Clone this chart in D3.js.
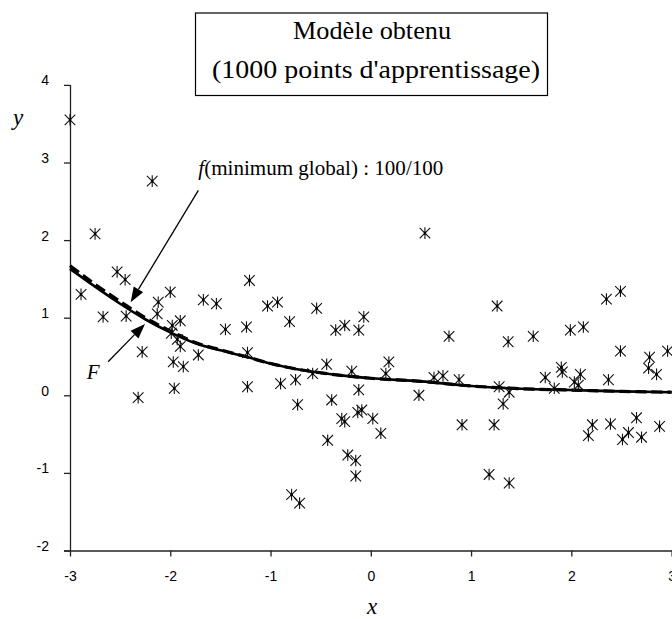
<!DOCTYPE html>
<html>
<head>
<meta charset="utf-8">
<script src="https://cdn.jsdelivr.net/npm/d3@7/dist/d3.min.js"></script>
<style>
html,body{margin:0;padding:0;background:#fff;}
svg{display:block;}
</style>
</head>
<body>
<svg id="chart" width="672" height="619"></svg>
<script>
// ---- data ----
const xTicks = [-3, -2, -1, 0, 1, 2, 3];
const yTicks = [-2, -1, 0, 1, 2, 3, 4];

const pointsX = [-3.00,-2.18,-2.75,-2.89,-2.67,-2.53,-2.45,-2.44,-2.28,-2.32,
  -2.12,-2.00,-2.13,-1.98,-1.90,-1.99,-1.93,-1.90,-1.97,-1.87,
  -1.96,-1.72,-1.67,-1.54,-1.45,-1.24,-1.23,-1.21,-1.23,-1.03,
  -0.93,-0.81,-0.54,-0.35,-0.26,-0.12,-0.07,-0.90,-0.75,-0.58,
  -0.44,-0.19,0.18,0.15,-0.12,-0.73,-0.39,-0.29,-0.26,-0.13,
  -0.09,0.02,0.10,-0.43,-0.23,-0.15,-0.15,-0.79,-0.71,0.48,
  0.63,0.72,0.54,0.78,0.88,1.26,1.37,1.62,1.99,2.12,
  2.35,2.49,2.49,2.78,2.77,2.85,2.96,1.28,1.38,1.32,
  1.74,1.83,1.90,1.91,2.03,2.09,2.07,2.37,0.91,1.23,
  2.21,2.17,2.39,2.65,2.57,2.51,2.70,2.88,1.18,1.38];
const pointsY = [3.55,2.76,2.08,1.30,1.01,1.59,1.49,1.02,0.56,-0.03,
  1.20,1.33,1.05,0.90,0.96,0.80,0.72,0.63,0.43,0.37,
  0.09,0.52,1.23,1.18,0.85,0.88,0.55,1.48,0.11,1.15,
  1.20,0.95,1.12,0.84,0.90,0.84,1.01,0.15,0.20,0.28,
  0.40,0.31,0.43,0.28,0.07,-0.12,-0.06,-0.30,-0.34,-0.22,
  -0.19,-0.30,-0.49,-0.58,-0.77,-0.84,-1.04,-1.28,-1.39,0.00,
  0.23,0.25,2.09,0.76,0.20,1.15,0.69,0.76,0.84,0.88,
  1.24,1.34,0.57,0.49,0.35,0.27,0.57,0.11,0.04,-0.11,
  0.23,0.09,0.36,0.30,0.17,0.27,0.13,0.20,-0.38,-0.38,
  -0.38,-0.52,-0.37,-0.29,-0.48,-0.57,-0.54,-0.40,-1.02,-1.13];

const curveX    = [-3, -2.75, -2.5, -2.25, -2, -1.75, -1.5, -1.25, -1, -0.75, -0.5, -0.25, 0, 0.5, 1, 1.5, 2, 2.5, 3];
const curveF    = [1.63, 1.40, 1.18, 0.98, 0.81, 0.67, 0.58, 0.50, 0.41, 0.34, 0.29, 0.25, 0.22, 0.18, 0.12, 0.085, 0.068, 0.05, 0.04];
const curveFmin = [1.67, 1.43, 1.21, 1.00, 0.83, 0.68, 0.585, 0.50, 0.41, 0.34, 0.29, 0.25, 0.22, 0.18, 0.12, 0.085, 0.068, 0.05, 0.04];

const titleLines = ["Modèle obtenu", "(1000 points d'apprentissage)"];

// ---- layout ----
const svg = d3.select("#chart");
const X0 = 70, X1 = 671.6, Y0 = 550.5, Y1 = 84.9;
const x = d3.scaleLinear().domain([-3, 3]).range([X0, X1]);
const y = d3.scaleLinear().domain([-2, 4]).range([Y0, Y1]);

const sans = "'Liberation Sans', Arial, sans-serif";
const serif = "'Liberation Serif', 'Times New Roman', serif";
const fmt = d => String(d);

// axes
const xAxis = svg.append("g").attr("transform", `translate(0,${Y0})`)
  .call(d3.axisBottom(x).tickValues(xTicks).tickSize(6).tickPadding(0).tickFormat(fmt));
const yAxis = svg.append("g").attr("transform", `translate(${X0},0)`)
  .call(d3.axisLeft(y).tickValues(yTicks).tickSize(6).tickPadding(0).tickFormat(fmt));
[xAxis, yAxis].forEach(g => {
  g.select(".domain").attr("stroke", "#222").attr("stroke-width", 1.3);
  g.selectAll(".tick line").attr("stroke", "#222").attr("stroke-width", 1.3);
  g.selectAll(".tick text").attr("font-family", sans).attr("font-size", 14).attr("fill", "#000");
});
yAxis.select(".domain").attr("d", `M0.5,${Y0}V${Y1}`);
yAxis.selectAll(".tick text").attr("x", -21).attr("dy", "0").attr("text-anchor", "end");
xAxis.select(".domain").attr("d", `M${X0 - 6},0.5H${X1 + 2}`);
xAxis.selectAll(".tick text").attr("y", 30).attr("dy", "0");

// axis titles
svg.append("text").attr("x", 372).attr("y", 614).attr("text-anchor", "middle")
  .attr("font-family", serif).attr("font-style", "italic").attr("font-size", 23).text("x");
svg.append("text").attr("x", 18).attr("y", 125).attr("text-anchor", "middle")
  .attr("font-family", serif).attr("font-style", "italic").attr("font-size", 23).text("y");

// curves
const curveData = curveX.map((cx, i) => ({x: cx, F: curveF[i], f: curveFmin[i]}));
const lineF = d3.line().x(d => x(d.x)).y(d => y(d.F)).curve(d3.curveMonotoneX);
const lineFm = d3.line().x(d => x(d.x)).y(d => y(d.f)).curve(d3.curveMonotoneX);
svg.append("path").datum(curveData).attr("d", lineFm).attr("fill", "none")
  .attr("stroke", "#000").attr("stroke-width", 3.2).attr("stroke-dasharray", "11,5");
svg.append("path").datum(curveData).attr("d", lineF).attr("fill", "none")
  .attr("stroke", "#000").attr("stroke-width", 2.6);

// points (asterisk markers)
const pts = pointsX.map((px, i) => ({x: px, y: pointsY[i]}));
const s = 5.3;
const star = `M${-s},${-s}L${s},${s}M${-s},${s}L${s},${-s}M0,${-s - 0.5}L0,${s + 0.5}`;
const gp = svg.append("g");
pts.forEach(p => {
  const g = gp.append("g").attr("transform", `translate(${x(p.x)},${y(p.y)})`);
  g.append("path").attr("d", star).attr("stroke", "#111").attr("stroke-width", 1.1).attr("fill", "none");
  g.append("circle").attr("r", 1.3).attr("fill", "#000");
});

// annotations (anchored in data units)
function arrow(fromX, fromY, toX, toY) {
  const x0 = x(fromX), y0 = y(fromY), x1 = x(toX), y1 = y(toY);
  const dx = x1 - x0, dy = y1 - y0, L = Math.hypot(dx, dy);
  const ux = dx / L, uy = dy / L, len = 15, hw = 5.5;
  const bx = x1 - ux * len, by = y1 - uy * len;
  svg.append("line").attr("x1", x0).attr("y1", y0).attr("x2", bx).attr("y2", by)
    .attr("stroke", "#000").attr("stroke-width", 1.3);
  svg.append("path")
    .attr("d", `M${x1},${y1}L${bx - uy * hw},${by + ux * hw}L${bx + uy * hw},${by - ux * hw}Z`)
    .attr("fill", "#000");
}
arrow(-1.72, 2.64, -2.395, 1.20);
arrow(-2.62, 0.433, -2.252, 0.92);

const tf = svg.append("text").attr("x", x(-1.72)).attr("y", y(2.84))
  .attr("font-family", serif).attr("font-size", 20)
  .attr("textLength", 245).attr("lengthAdjust", "spacingAndGlyphs");
tf.append("tspan").attr("font-style", "italic").text("f");
tf.append("tspan").text("(minimum global) : 100/100");

svg.append("text").attr("x", x(-2.77)).attr("y", y(0.21)).attr("text-anchor", "middle")
  .attr("font-family", serif).attr("font-style", "italic").attr("font-size", 21).text("F");

// title box
svg.append("rect").attr("x", 195.5).attr("y", 13).attr("width", 352).attr("height", 82.5)
  .attr("fill", "#fff").attr("stroke", "#000").attr("stroke-width", 1.2);
svg.append("text").attr("x", 293).attr("y", 38.5)
  .attr("font-family", serif).attr("font-size", 25)
  .attr("textLength", 158).attr("lengthAdjust", "spacingAndGlyphs").text(titleLines[0]);
svg.append("text").attr("x", 212).attr("y", 77.5)
  .attr("font-family", serif).attr("font-size", 25)
  .attr("textLength", 328).attr("lengthAdjust", "spacingAndGlyphs").text(titleLines[1]);
</script>
</body>
</html>
